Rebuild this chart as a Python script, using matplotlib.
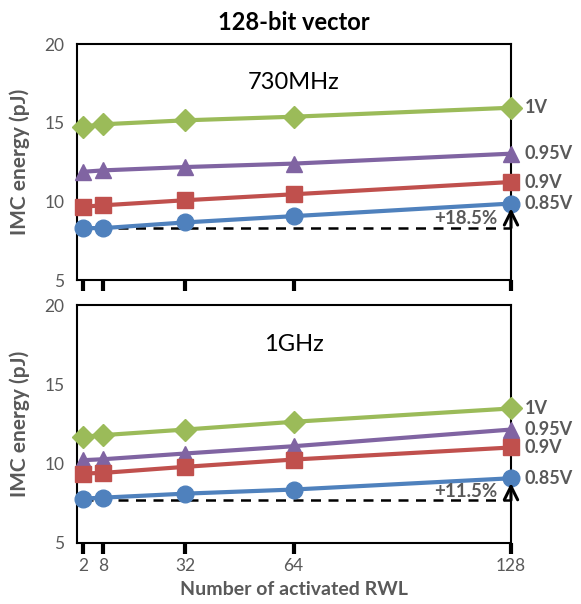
import numpy as np
import matplotlib.pyplot as plt

plt.rcParams['font.family'] = ['Lato', 'DejaVu Sans']

# number of activated read word lines
rwl = [2, 8, 32, 64, 128]
voltages = ['1V', '0.95V', '0.9V', '0.85V']

# energy in pJ, 730MHz
e_730 = {
    '1V':    [14.75, 14.90, 15.15, 15.38, 15.95],
    '0.95V': [11.88, 11.97, 12.18, 12.40, 13.03],
    '0.9V':  [9.66, 9.75, 10.07, 10.45, 11.23],
    '0.85V': [8.30, 8.30, 8.66, 9.06, 9.86],
}
# energy in pJ, 1GHz
e_1g = {
    '1V':    [11.70, 11.80, 12.15, 12.64, 13.48],
    '0.95V': [10.22, 10.28, 10.64, 11.10, 12.15],
    '0.9V':  [9.38, 9.42, 9.80, 10.26, 11.02],
    '0.85V': [7.80, 7.86, 8.11, 8.37, 9.08],
}
baseline_730 = 8.32
baseline_1g = 7.70
pct_730 = '+18.5%'
pct_1g = '+11.5%'

colors = {'1V': '#9BBB59', '0.95V': '#8064A2', '0.9V': '#C0504D', '0.85V': '#4F81BD'}
markers = {'1V': 'D', '0.95V': '^', '0.9V': 's', '0.85V': 'o'}
msizes = {'1V': 11, '0.95V': 12, '0.9V': 11, '0.85V': 12}
gray = '#595959'

fig = plt.figure(figsize=(5.81, 6.04), dpi=100)
ax1 = fig.add_axes([0.1325, 0.5364, 0.747, 0.3907])
ax2 = fig.add_axes([0.1325, 0.101, 0.747, 0.394])


def draw_panel(ax, data, baseline, pct, freq, show_xlabels):
    for v in voltages:
        ax.plot(rwl, data[v], color=colors[v], marker=markers[v], markersize=msizes[v],
                linewidth=3, clip_on=False, zorder=3)
        ax.annotate(v, xy=(128, data[v][-1]), xytext=(10, 0), textcoords='offset points',
                    ha='left', va='center', fontsize=13, fontweight='bold', color=gray,
                    annotation_clip=False)
    # dashed reference line at the 2-RWL energy of the lowest voltage
    ax.plot([rwl[0], rwl[-1]], [baseline, baseline], color='black', linestyle=(0, (4, 3)),
            linewidth=1.8, zorder=2)
    top = data['0.85V'][-1]
    ax.annotate('', xy=(128, top - 0.3), xytext=(128, baseline),
                arrowprops=dict(arrowstyle='->', color='black', lw=2.2,
                                mutation_scale=24, shrinkA=0, shrinkB=0),
                zorder=4)
    ax.annotate(pct, xy=(128, (baseline + top) / 2), xytext=(-10, -2),
                textcoords='offset points', ha='right', va='center',
                fontsize=13.5, fontweight='bold', color=gray)
    ax.text(0.5, 0.835, freq, transform=ax.transAxes,
            ha='center', va='center', fontsize=17, color='black')

    ax.set_xlim(0.2, 128)
    ax.set_ylim(5, 20)
    ax.set_yticks([5, 10, 15, 20])
    ax.set_xticks(rwl)
    ax.tick_params(axis='y', length=0, labelsize=12.5, labelcolor=gray, pad=9)
    ax.tick_params(axis='x', length=8, width=3, direction='out', color='black',
                   labelsize=12.5, labelcolor=gray, pad=3)
    if not show_xlabels:
        ax.set_xticklabels([])
    for s in ax.spines.values():
        s.set_linewidth(1.5)
        s.set_color('black')
    ax.set_ylabel('IMC energy (pJ)', fontsize=15, fontweight='bold', color=gray, labelpad=10)


draw_panel(ax1, e_730, baseline_730, pct_730, '730MHz', False)
draw_panel(ax2, e_1g, baseline_1g, pct_1g, '1GHz', True)

ax1.set_title('128-bit vector', fontsize=17, fontweight='bold', pad=10)
ax2.set_xlabel('Number of activated RWL', fontsize=14, fontweight='bold', color=gray, labelpad=5)

fig.savefig('out.png', dpi=100)
